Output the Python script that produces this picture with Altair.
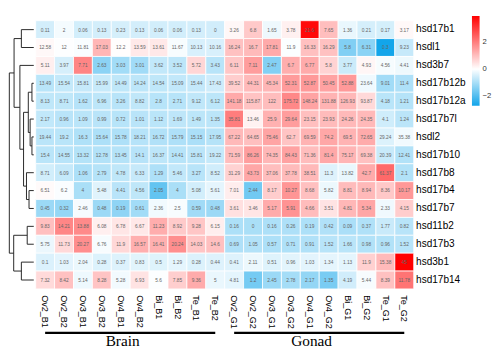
import altair as alt
import pandas as pd
import numpy as np

samples = ["Ov2_B1", "Ov2_B2", "Ov3_B1", "Ov3_B2", "Ov4_B1", "Ov4_B2", "Bi_B1", "Bi_B2", "Te_B1", "Te_B2",
           "Ov2_G1", "Ov2_G2", "Ov3_G1", "Ov3_G2", "Ov4_G1", "Ov4_G2", "Bi_G1", "Bi_G2", "Te_G1", "Te_G2"]
genes = ["hsd17b1", "hsdl1", "hsd3b7", "hsd17b12b", "hsd17b12a", "hsd17b7l", "hsdl2", "hsd17b10",
         "hsd17b8", "hsd17b4", "hsd17b7", "hsd11b2", "hsd17b3", "hsd3b1", "hsd17b14"]

v_hsd17b1 = [0.11, 2, 0.06, 0.13, 0.23, 0.13, 0.06, 0.06, 0.13, 0, 3.26, 6.8, 1.65, 3.78, 21.6, 7.65, 1.36, 0.21, 0.17, 3.17]
v_hsdl1 = [12.58, 12, 11.81, 17.03, 12.2, 13.59, 13.61, 11.67, 10.13, 10.16, 16.24, 16.7, 17.81, 11.9, 16.33, 16.29, 5.8, 6.31, 0.3, 9.23]
v_hsd3b7 = [5.11, 3.97, 7.71, 2.63, 3.03, 3.01, 3.62, 3.52, 5.72, 3.43, 6.11, 7.11, 2.47, 6.7, 6.77, 5.8, 3.77, 4.93, 4.56, 4.41]
v_hsd17b12b = [13.49, 15.54, 15.81, 15.99, 14.49, 14.24, 14.54, 15.09, 15.44, 17.43, 39.52, 44.31, 45.34, 52.31, 52.87, 50.45, 52.88, 23.64, 9.01, 11.4]
v_hsd17b12a = [8.13, 8.71, 1.62, 6.96, 3.26, 8.82, 2.8, 2.71, 9.12, 6.12, 141.18, 115.87, 122, 175.72, 148.24, 131.88, 126.93, 93.87, 4.18, 1.21]
v_hsd17b7l = [2.17, 0.96, 1.09, 0.99, 0.72, 1.01, 1.12, 1.69, 1.49, 1.35, 35.81, 13.46, 25.9, 29.64, 23.15, 23.93, 24.26, 24.35, 4.1, 1.24]
v_hsdl2 = [19.44, 19.2, 16.3, 15.64, 15.78, 18.21, 16.72, 15.79, 15.15, 17.95, 67.22, 64.65, 75.46, 62.7, 69.59, 74.2, 69.5, 72.65, 29.24, 35.38]
v_hsd17b10 = [15.4, 14.55, 13.32, 12.78, 13.45, 14.1, 16.37, 14.41, 15.81, 19.22, 71.59, 86.26, 74.35, 84.43, 71.36, 81.4, 75.17, 69.38, 20.39, 12.41]
v_hsd17b8 = [8.71, 6.09, 1.06, 2.79, 4.78, 6.33, 1.29, 5.46, 3.27, 8.52, 31.29, 43.73, 37.06, 37.78, 38.51, 11.3, 13.82, 42.7, 61.37, 2.1]
v_hsd17b4 = [6.51, 6.2, 4.0, 5.48, 4.41, 4.56, 2.05, 4.0, 5.08, 5.61, 7.01, 2.44, 8.17, 10.27, 8.68, 5.82, 8.81, 8.94, 8.36, 10.17]
v_hsd17b7 = [0.45, 0.32, 2.46, 0.48, 0.19, 0.61, 2.36, 2.5, 0.59, 0.48, 3.61, 3.46, 5.17, 5.91, 4.66, 3.51, 4.81, 5.34, 2.33, 4.15]
v_hsd11b2 = [9.83, 14.21, 13.88, 6.08, 6.78, 6.67, 11.23, 8.92, 9.28, 6.15, 0.16, 0, 0.16, 0.26, 0.19, 0.42, 0.09, 0.37, 1.77, 0.82]
v_hsd17b3 = [5.75, 11.73, 20.27, 6.76, 11.9, 16.57, 16.41, 20.24, 14.03, 14.6, 0.69, 1.05, 0.57, 0.71, 0.91, 1.52, 1.66, 0.98, 0.96, 1.52]
v_hsd3b1 = [0.1, 1.03, 2.04, 0.28, 0.37, 0.83, 0.5, 1.29, 0.28, 0.44, 0.41, 2.11, 0.51, 0.96, 1.03, 1.34, 1.13, 11.9, 15.38, 45]
v_hsd17b14 = [7.32, 8.42, 5.14, 8.28, 5.28, 6.93, 5.6, 7.85, 9.36, 5, 4.81, 1.2, 2.45, 2.78, 2.17, 1.35, 4.19, 5.44, 8.39, 11.78]

all_values = [v_hsd17b1, v_hsdl1, v_hsd3b7, v_hsd17b12b, v_hsd17b12a, v_hsd17b7l, v_hsdl2, v_hsd17b10,
              v_hsd17b8, v_hsd17b4, v_hsd17b7, v_hsd11b2, v_hsd17b3, v_hsd3b1, v_hsd17b14]

# row dendrogram: (left node, right node, merge height); leaves are 0..14, merges numbered from 15
merge_a = [0, 3, 6, 5, 16, 9, 8, 19, 2, 15, 11, 13, 25, 24]
merge_b = [1, 4, 7, 17, 18, 10, 20, 21, 22, 23, 12, 14, 26, 27]
merge_h = [17, 2.5, 2.5, 5, 7.5, 6.5, 10, 14, 19, 27, 9, 17, 27.5, 33.5]

group_names = ["Brain", "Gonad"]
group_members = [samples[:10], samples[10:]]
group_label_at = ["Ov4_B1", "Ov4_G1"]

# ---- tables ----
recs = []
for g, vals in zip(genes, all_values):
    arr = np.array(vals, dtype=float)
    z = (arr - arr.mean()) / arr.std(ddof=1)
    for s, v, zz in zip(samples, vals, z):
        recs.append({"gene": g, "sample": s, "value": v, "z": float(zz), "label": f"{v:g}"})
df = pd.DataFrame(recs)
zmin, zmax = float(df["z"].min()), float(df["z"].max())

pos = {i: i + 0.5 for i in range(len(genes))}
hgt = {i: 0.0 for i in range(len(genes))}
segs = []
for k, (a, b, h) in enumerate(zip(merge_a, merge_b, merge_h)):
    node = len(genes) + k
    segs.append({"x": h, "x2": h, "y": pos[a], "y2": pos[b]})
    segs.append({"x": hgt[a], "x2": h, "y": pos[a], "y2": pos[a]})
    segs.append({"x": hgt[b], "x2": h, "y": pos[b], "y2": pos[b]})
    pos[node] = (pos[a] + pos[b]) / 2
    hgt[node] = h
dseg = pd.DataFrame(segs)

gline = pd.DataFrame([{"group": g, "sample": s} for g, m in zip(group_names, group_members) for s in m])
glab = pd.DataFrame({"group": group_names, "at": group_label_at})

W, H = 396, 281
DW = 26
FONT = "Liberation Sans"

xscale = alt.Scale(domain=samples, paddingInner=0, paddingOuter=0)
yscale = alt.Scale(domain=genes, paddingInner=0, paddingOuter=0)

base = alt.Chart(df).encode(
    x=alt.X("sample:N", scale=xscale,
            axis=alt.Axis(title=None, labelAngle=90, labelAlign="left", labelBaseline="middle",
                          labelPadding=6, ticks=False, tickSize=0, domain=False, labelFontSize=9.5,
                          labelFont=FONT, labelColor="black")),
    y=alt.Y("gene:N", scale=yscale,
            axis=alt.Axis(title=None, orient="right", ticks=False, tickSize=0, domain=False,
                          labelPadding=2, labelFontSize=10.5, labelFont=FONT, labelColor="black")),
)

rect = base.mark_rect(stroke="white", strokeWidth=0.8).encode(
    color=alt.Color("z:Q",
                    scale=alt.Scale(domain=[zmin, 0, zmax], range=["#12A5EA", "#FFFFFF", "#FF0000"],
                                    interpolate="rgb"),
                    legend=alt.Legend(title=None, orient="none", legendX=485, legendY=-5,
                                      direction="vertical", gradientLength=94, gradientThickness=8,
                                      gradientStrokeWidth=0, values=[-2, 0, 2], labelFontSize=8,
                                      labelFont=FONT, labelColor="#333", labelOffset=3))
)
txt = base.mark_text(fontSize=5, font=FONT, color="#666").encode(text="label:N")

lines = alt.Chart(gline).mark_line(color="black", strokeWidth=2.5).encode(
    x=alt.X("sample:N", scale=xscale),
    y=alt.value(H + 46),
    detail="group:N",
)
labels = alt.Chart(glab).mark_text(font="Liberation Serif", fontSize=16, color="black",
                                   baseline="alphabetic", align="center").encode(
    x=alt.X("at:N", scale=xscale, bandPosition=0.6),
    y=alt.value(H + 60),
    text="group:N",
)

heat = alt.layer(rect, txt, lines, labels).properties(width=W, height=H)

dendro = alt.Chart(dseg).mark_rule(color="#222", strokeWidth=1).encode(
    x=alt.X("x:Q", scale=alt.Scale(domain=[0, 34], reverse=True, nice=False, zero=False), axis=None),
    x2="x2:Q",
    y=alt.Y("y:Q", scale=alt.Scale(domain=[0, len(genes)], reverse=True, nice=False, zero=False), axis=None),
    y2="y2:Q",
).properties(width=DW, height=H)

chart = alt.hconcat(dendro, heat, spacing=0).properties(padding=0).configure_view(strokeWidth=0)

chart.save("out.html", embed_options={"renderer": "svg", "actions": False})
